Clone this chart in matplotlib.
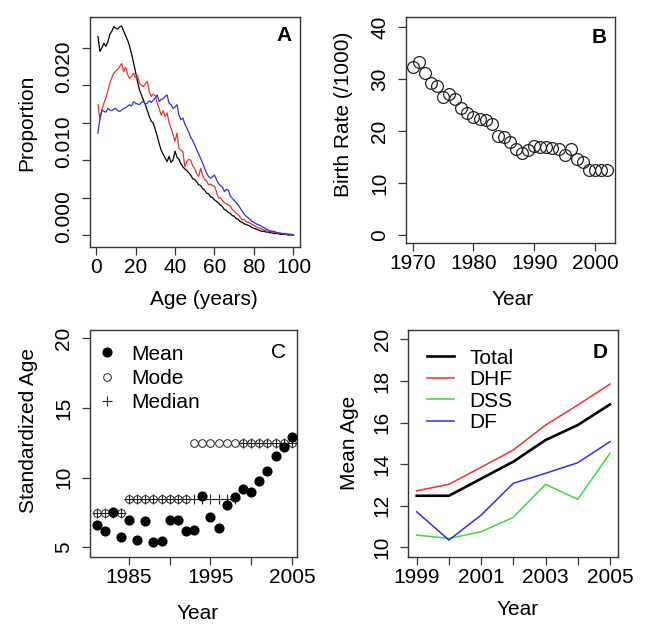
import numpy as np
import matplotlib
matplotlib.use("Agg")
import matplotlib.pyplot as plt

# panel A: age distribution (proportion x 1e-4), ages 1..100
ages = np.arange(1, 101)
prop_black = [265, 245, 250, 256, 252, 258, 268, 272, 278, 276,
              275, 278, 279, 272, 266, 260, 252, 242, 230, 218,
              205, 194, 187, 180, 174, 166, 158, 152, 149, 141,
              132, 122, 113, 108, 103, 98, 105, 97, 100, 112,
              104, 101, 95, 91, 88, 86, 83, 80, 75, 74,
              71, 67, 66, 62, 60, 56, 55, 51, 50, 47,
              45, 43, 40, 38, 34, 33, 30, 29, 26, 25,
              22, 21, 18, 17, 15, 14, 13, 12, 10, 9,
              8, 7, 6, 5, 5, 4, 4, 3, 3, 2,
              2, 2, 1, 1, 1, 1, 0, 0, 0, 0]
prop_red = [174, 154, 168, 176, 183, 192, 203, 210, 216, 219,
            221, 225, 229, 218, 224, 214, 209, 212, 216, 210,
            213, 203, 200, 198, 202, 205, 191, 185, 188, 186,
            176, 169, 160, 166, 158, 163, 150, 143, 134, 125,
            136, 116, 113, 111, 91, 98, 101, 100, 92, 89,
            82, 78, 89, 80, 74, 72, 67, 68, 66, 65,
            58, 49, 50, 46, 43, 42, 40, 39, 34, 32,
            29, 27, 24, 20, 21, 18, 17, 16, 14, 13,
            11, 10, 9, 8, 7, 6, 5, 5, 4, 4,
            3, 3, 2, 2, 2, 1, 1, 1, 0, 0]
prop_blue = [136, 156, 167, 165, 164, 169, 167, 166, 168, 169,
             166, 165, 167, 169, 170, 172, 174, 172, 178, 176,
             175, 174, 177, 178, 175, 176, 179, 177, 180, 183,
             187, 178, 181, 182, 185, 187, 176, 174, 169, 171,
             174, 160, 154, 156, 148, 143, 137, 130, 126, 120,
             114, 108, 102, 96, 89, 83, 78, 76, 78, 80,
             74, 69, 66, 64, 58, 61, 60, 52, 49, 46,
             43, 40, 36, 32, 28, 25, 23, 21, 18, 17,
             15, 14, 13, 11, 10, 8, 7, 6, 5, 5,
             4, 3, 3, 2, 2, 2, 1, 1, 1, 0]

# panel B: crude birth rate
birth_years = np.arange(1970, 2003)
birth_rate = [32.4, 33.3, 31.2, 29.3, 28.7, 26.6, 27.1, 26.1, 24.4, 23.4,
              22.8, 22.4, 22.1, 21.3, 19.0, 18.9, 17.9, 16.5, 15.8, 16.3,
              17.1, 17.0, 16.9, 16.7, 16.5, 15.4, 16.5, 14.6, 14.1, 12.6,
              12.5, 12.5, 12.5]

# panel C: standardized age
c_years = np.arange(1981, 2006)
c_mean = [6.6, 6.17, 7.55, 5.76, 7.0, 5.52, 6.9, 5.4, 5.44, 6.96,
          7.0, 6.2, 6.25, 8.68, 7.2, 6.36, 8.04, 8.59, 9.16, 9.0,
          9.78, 10.5, 11.58, 12.22, 12.94]
c_mode = [7.5] * 4 + [8.5] * 8 + [12.5] * 13
c_median = [7.5] * 4 + [8.5] * 14 + [12.5] * 7

# panel D: mean age by case type
d_years = np.arange(1999, 2006)
d_total = [12.48, 12.48, 13.3, 14.12, 15.16, 15.88, 16.87]
d_dhf = [12.72, 13.03, 13.85, 14.68, 15.88, 16.84, 17.85]
d_dss = [10.59, 10.43, 10.75, 11.44, 13.03, 12.31, 14.52]
d_df = [11.71, 10.35, 11.55, 13.08, 13.56, 14.07, 15.08]

fs = 15
plt.rcParams['font.family'] = ['Liberation Sans', 'DejaVu Sans']
plt.rcParams['font.size'] = fs

RED = '#f03030'
GREEN = '#3cd83c'
BLUE = '#3030e0'
EDGE = '#333333'

fig = plt.figure(figsize=(6.57, 6.26), dpi=100)
axA = fig.add_axes([0.1370, 0.6059, 0.3196, 0.3669])
axB = fig.add_axes([0.6180, 0.6113, 0.3181, 0.3620])
axC = fig.add_axes([0.1370, 0.1107, 0.3146, 0.3621])
axD = fig.add_axes([0.6215, 0.1107, 0.3196, 0.3621])


def style(ax, ylab, xlab):
    for s in ax.spines.values():
        s.set_color(EDGE)
        s.set_linewidth(1.0)
    ax.tick_params(direction='out', length=6, width=0.9, color=EDGE,
                   labelsize=fs, pad=2)
    ax.tick_params(axis='y', labelrotation=90, pad=6)
    for lab in ax.get_yticklabels():
        lab.set_va('center')
    ax.yaxis.set_label_coords(*ylab)
    ax.xaxis.set_label_coords(*xlab)
    ax.xaxis.label.set_va('center')
    ax.yaxis.label.set_va('center')


# ---- A
scale = 1e-4
axA.plot(ages, np.array(prop_black) * scale, color='black', lw=0.9)
axA.plot(ages, np.array(prop_red) * scale, color=RED, lw=0.9)
axA.plot(ages, np.array(prop_blue) * scale, color=BLUE, lw=0.9)
axA.set_xlim(-3.04, 103.3)
axA.set_ylim(-0.00156, 0.0291)
axA.set_xticks([0, 20, 40, 60, 80, 100])
axA.set_yticks([0, 0.005, 0.010, 0.015, 0.020, 0.025])
axA.set_yticklabels([])
axA.set_yticks([0.0025, 0.0125, 0.0225], minor=True)
axA.set_yticklabels(['0.000', '0.010', '0.020'], minor=True)
axA.set_xlabel('Age (years)')
axA.set_ylabel('Proportion')
style(axA, (-0.30, 0.54), (0.54, -0.23))
axA.tick_params(axis='y', which='minor', length=0, labelrotation=90, pad=12,
                labelsize=fs)
for lab in axA.get_yticklabels(minor=True):
    lab.set_va('center')
axA.text(0.96, 0.92, 'A', transform=axA.transAxes, ha='right', va='center',
         fontweight='bold')

# ---- B
axB.plot(birth_years, birth_rate, 'o', mfc='none', mec='#222222', ms=8.5, mew=0.9)
axB.set_xlim(1968.9, 2003.3)
axB.set_ylim(-1.6, 42.0)
axB.set_xticks([1970, 1980, 1990, 2000])
axB.set_yticks([0, 10, 20, 30, 40])
axB.set_xlabel('Year')
axB.set_ylabel('Birth Rate (/1000)')
style(axB, (-0.30, 0.57), (0.51, -0.248))
axB.text(0.96, 0.91, 'B', transform=axB.transAxes, ha='right', va='center',
         fontweight='bold')

# ---- C
axC.plot(c_years, c_mode, 'o', mfc='none', mec='#222222', ms=5.5, mew=0.7,
         label='Mode', zorder=2)
axC.plot(c_years, c_median, '+', color='#222222', ms=6.5, mew=0.8,
         label='Median', zorder=3)
axC.plot(c_years, c_mean, 'o', color='black', ms=6.3, label='Mean', zorder=4)
axC.set_xlim(1980.2, 2005.6)
axC.set_ylim(4.33, 20.6)
axC.set_xticks([1985, 1990, 1995, 2000, 2005])
axC.set_xticklabels(['1985', '', '1995', '', '2005'])
axC.set_yticks([5, 10, 15, 20])
axC.set_xlabel('Year')
axC.set_ylabel('Standardized Age')
style(axC, (-0.30, 0.555), (0.52, -0.25))
h, l = axC.get_legend_handles_labels()
order = [2, 0, 1]
axC.legend([h[i] for i in order], [l[i] for i in order], loc='upper left',
           bbox_to_anchor=(-0.038, 1.0), frameon=False, handlelength=1.0,
           handletextpad=0.65, labelspacing=0.26, borderaxespad=0.3,
           fontsize=fs)
axC.text(0.95, 0.90, 'C', transform=axC.transAxes, ha='right', va='center')

# ---- D
axD.plot(d_years, d_total, color='black', lw=1.9, label='Total')
axD.plot(d_years, d_dhf, color=RED, lw=1.1, label='DHF')
axD.plot(d_years, d_dss, color=GREEN, lw=1.1, label='DSS')
axD.plot(d_years, d_df, color=BLUE, lw=1.1, label='DF')
axD.set_xlim(1998.74, 2005.26)
axD.set_ylim(9.55, 20.45)
axD.set_xticks(np.arange(1999, 2006))
axD.set_xticklabels(['1999', '', '2001', '', '2003', '', '2005'])
axD.set_yticks([10, 12, 14, 16, 18, 20])
axD.set_xlabel('Year')
axD.set_ylabel('Mean Age')
style(axD, (-0.28, 0.5), (0.52, -0.235))
axD.legend(loc='upper left', frameon=False, handlelength=1.3,
           handletextpad=0.72, labelspacing=0.12, borderaxespad=0.5,
           fontsize=fs)
axD.text(0.95, 0.90, 'D', transform=axD.transAxes, ha='right', va='center',
         fontweight='bold')

fig.savefig('out.png', dpi=100)
